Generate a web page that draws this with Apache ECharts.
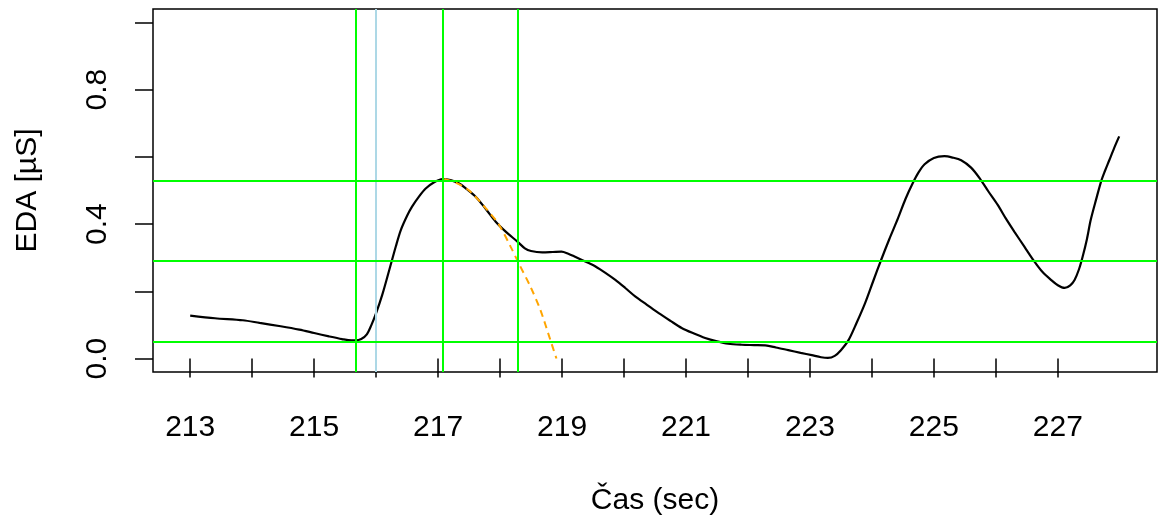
<!DOCTYPE html>
<html>
<head>
<meta charset="utf-8">
<script src="https://cdn.jsdelivr.net/npm/echarts@6/dist/echarts.min.js"></script>
<style>html,body{margin:0;padding:0;background:#fff}#c{width:1160px;height:523px}</style>
</head>
<body>
<div id="c"></div>
<script>
// EDA signal (time in sec, value in µS)
const edaTime = [213.00,213.40,213.85,214.12,214.46,214.76,215.00,215.24,215.45,215.60,215.67,215.76,215.85,215.92,216.00,216.10,216.21,216.32,216.40,216.50,216.58,216.70,216.80,216.93,217.07,217.20,217.34,217.47,217.61,217.77,217.93,218.10,218.28,218.40,218.50,218.68,218.85,218.99,219.10,219.21,219.43,219.54,219.70,219.86,220.02,220.18,220.37,220.56,220.75,220.93,221.12,221.31,221.50,221.68,221.90,222.10,222.28,222.45,222.65,222.85,223.03,223.18,223.29,223.40,223.50,223.62,223.75,223.89,224.02,224.15,224.28,224.42,224.54,224.66,224.75,224.85,225.00,225.17,225.30,225.44,225.60,225.74,225.88,226.03,226.16,226.30,226.46,226.62,226.75,226.89,227.00,227.11,227.20,227.27,227.34,227.40,227.47,227.53,227.62,227.70,227.76,227.83,227.91,227.99];
const edaValue = [0.128,0.120,0.114,0.106,0.096,0.086,0.076,0.066,0.058,0.054,0.054,0.058,0.072,0.098,0.135,0.190,0.262,0.335,0.383,0.425,0.452,0.484,0.506,0.524,0.534,0.531,0.521,0.503,0.481,0.445,0.407,0.376,0.348,0.328,0.320,0.316,0.317,0.318,0.312,0.303,0.284,0.274,0.255,0.234,0.210,0.185,0.160,0.135,0.112,0.091,0.075,0.061,0.051,0.044,0.041,0.040,0.039,0.033,0.025,0.017,0.010,0.004,0.002,0.008,0.025,0.054,0.105,0.165,0.230,0.294,0.355,0.417,0.474,0.522,0.553,0.578,0.597,0.602,0.598,0.590,0.568,0.536,0.497,0.457,0.417,0.377,0.333,0.289,0.258,0.234,0.218,0.210,0.218,0.234,0.265,0.303,0.356,0.412,0.475,0.528,0.558,0.590,0.627,0.661];
// recovery fit (orange dashed)
const fitTime = [217.10,217.30,217.50,217.77,217.98,218.17,218.30,218.49,218.65,218.81,218.91];
const fitValue = [0.534,0.522,0.500,0.447,0.399,0.333,0.284,0.214,0.145,0.056,0.000];
// reference lines
const greenVertical = [215.67, 217.07, 218.28];
const blueVertical = [216.00];
const greenHorizontal = [0.054, 0.294, 0.534];
// axis ticks
const xTicks = [213,214,215,216,217,218,219,220,221,222,223,224,225,226,227];
const xTickLabels = [213,215,217,219,221,223,225,227];
const yTicks = [0,0.2,0.4,0.6,0.8,1.0];
const yTickLabels = [0,0.4,0.8];

const FONT = 'Liberation Sans, Arial, sans-serif';
const chart = echarts.init(document.getElementById('c'), null, {renderer:'canvas'});
const zip = (a,b) => a.map((v,i)=>[v,b[i]]);
chart.setOption({
  animation:false,
  backgroundColor:'#fff',
  grid:{left:153,right:3,top:9,bottom:151,show:true,borderColor:'#000',borderWidth:1.5,backgroundColor:'transparent'},
  xAxis:{
    type:'value',min:212.4,max:228.6,
    name:'Čas (sec)',nameLocation:'middle',nameGap:114,
    nameTextStyle:{fontFamily:FONT,fontSize:30,color:'#000'},
    axisLine:{show:false},
    axisTick:{show:true,length:19,customValues:xTicks,lineStyle:{color:'#000',width:1.5}},
    axisLabel:{customValues:xTickLabels,margin:41,fontFamily:FONT,fontSize:30,color:'#000'},
    splitLine:{show:false}
  },
  yAxis:{
    type:'value',min:-0.04,max:1.04,
    name:'EDA [µS]',nameLocation:'middle',nameGap:110,nameRotate:90,
    nameTextStyle:{fontFamily:FONT,fontSize:30,color:'#000'},
    axisLine:{show:false},
    axisTick:{show:true,length:18,customValues:yTicks,lineStyle:{color:'#000',width:1.5}},
    axisLabel:{customValues:yTickLabels,rotate:90,margin:40,fontFamily:FONT,fontSize:30,color:'#000',formatter:v=>v.toFixed(1)},
    splitLine:{show:false}
  },
  series:[
    {type:'line',data:zip(edaTime,edaValue),showSymbol:false,smooth:0.3,lineStyle:{color:'#000',width:2.2},z:2},
    {type:'line',data:[],z:3,
      markLine:{silent:true,symbol:'none',label:{show:false},animation:false,
        data:[
          ...blueVertical.map(v=>({xAxis:v,lineStyle:{color:'#ADD8E6',width:2,type:'solid'}})),
          ...greenVertical.map(v=>({xAxis:v,lineStyle:{color:'#00FF00',width:2,type:'solid'}})),
          ...greenHorizontal.map(v=>({yAxis:v,lineStyle:{color:'#00FF00',width:2,type:'solid'}}))
        ]}},
    {type:'line',data:zip(fitTime,fitValue),showSymbol:false,smooth:0.3,lineStyle:{color:'#FFA500',width:2,type:[7,5]},z:4}
  ]
});
</script>
</body>
</html>
